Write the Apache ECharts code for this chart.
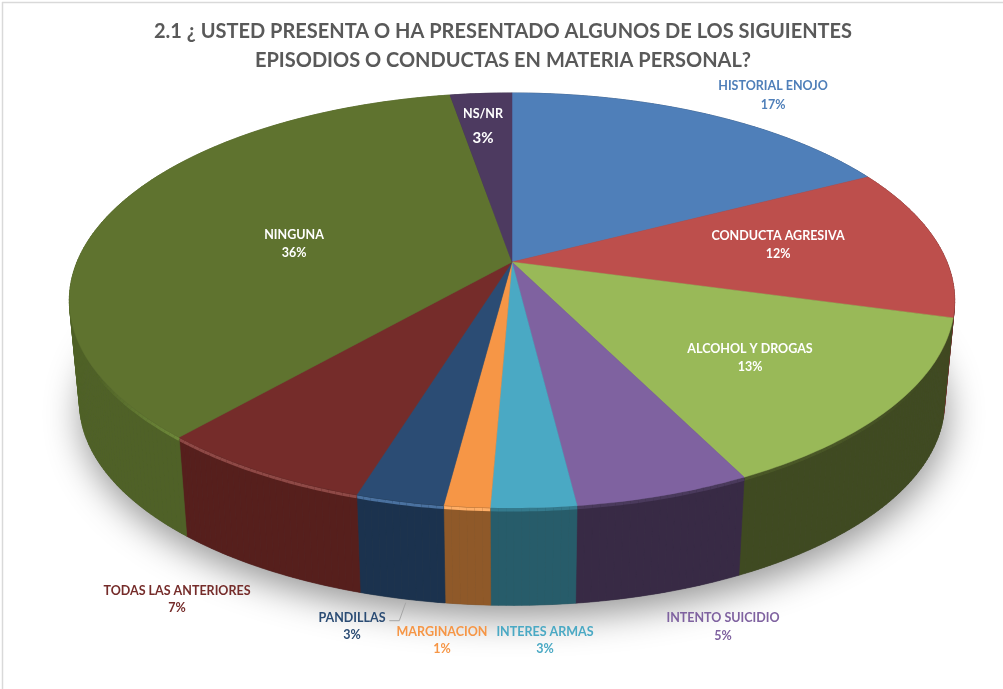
<!DOCTYPE html>
<html>
<head>
<meta charset="utf-8">
<style>
  html, body { margin: 0; padding: 0; background: #fff; }
  #main { width: 1003px; height: 689px; }
</style>
<script src="https://cdn.jsdelivr.net/npm/echarts@6/dist/echarts.min.js"></script>
</head>
<body>
<div id="main"></div>
<script>
const categories = ["HISTORIAL ENOJO", "CONDUCTA AGRESIVA", "ALCOHOL Y DROGAS", "INTENTO SUICIDIO", "INTERES ARMAS", "MARGINACION", "PANDILLAS", "TODAS LAS ANTERIORES", "NINGUNA", "NS/NR"];
const values = [17.4, 11.9, 13.4, 5.4, 2.6, 1.4, 2.7, 6.7, 35.9, 2.7];

const topColors = ["#4F7FB9", "#BD4F4C", "#99B958", "#7F62A0", "#4AA9C4", "#F69646", "#2B4C74", "#752C2A", "#5F732F", "#4D3A60"];
const wallColors = ["#2F4C6F", "#71302E", "#3F4A21", "#382A45", "#275C6A", "#8F5929", "#1B324E", "#561F1C", "#4F6127", "#2E2339"];
const rimColors = ["#3A5E8A", "#7E3533", "#4A5727", "#4A3A5C", "#347A8D", "#FFAE66", "#4A719F", "#8E4946", "#708A3B", "#3A2C49"];
const labelColors = ["#4F7FB9", "#FFFFFF", "#FFFFFF", "#7F62A0", "#4AA9C4", "#F69646", "#2B4C74", "#752C2A", "#FFFFFF", "#FFFFFF"];
const pctSizes = [12.5, 12.5, 12.5, 12.5, 12.5, 12.5, 12.5, 12.5, 12.5, 15];

// [x, y del nombre, y del porcentaje]
const labelPos = [[773, 86, 105], [778, 236, 254], [750, 349, 367], [723, 618, 636], [545, 632, 649], [442, 632, 649], [352, 618, 635], [177, 591, 608], [294, 235, 253], [483, 114, 138]];

// perspectiva del pastel
const cx = 512, cyTop = 262, cyBase = 365, rx = 435, ry = 200.4, persp = 0.1855, baseScale = 0.977;
const total = values.reduce((a, b) => a + b, 0);
const rimFrom = Math.PI * 2 / 3, rimTo = Math.PI * 4 / 3;

const project = (t, cy, s) => {
  const u = Math.sin(t), v = -Math.cos(t);
  const d = 1 - persp * v;
  return [cx + rx * s * u / d, cy + ry * s * v / d];
};

const arc = (from, to, cy, s) => {
  const n = Math.max(2, Math.ceil((to - from) / 0.015));
  const pts = [];
  for (let i = 0; i <= n; i++) pts.push(project(from + (to - from) * i / n, cy, s));
  return pts;
};

const sliceRange = (index) => {
  let acc = 0;
  for (let i = 0; i < index; i++) acc += values[i];
  return [acc / total * Math.PI * 2, (acc + values[index]) / total * Math.PI * 2];
};

const renderShadow = () => ({
  type: "polygon",
  shape: { points: arc(0, Math.PI * 2, cyBase, baseScale) },
  style: { fill: "#555", shadowBlur: 36, shadowColor: "rgba(0,0,0,0.42)", shadowOffsetX: 2, shadowOffsetY: 12 },
});

const renderWall = (params) => {
  const i = params.dataIndex;
  const [a, b] = sliceRange(i);
  const upper = arc(a, b, cyTop, 1);
  const lower = arc(a, b, cyBase, baseScale);
  // tramos sueltos para que la silueta cubra la tangente de ambos bordes
  const children = [];
  for (let k = 0; k < upper.length - 1; k++) {
    children.push({
      type: "polygon",
      shape: { points: [upper[k], upper[k + 1], lower[k + 1], lower[k]] },
      style: { fill: wallColors[i], stroke: wallColors[i], lineWidth: 0.6 },
    });
  }
  // brillo del borde, solo en la parte frontal y apagandose hacia los lados
  const from = Math.max(a, rimFrom), to = Math.min(b, rimTo);
  if (to > from) {
    const rim = arc(from, to, cyTop + 2, 1);
    const step = (to - from) / (rim.length - 1);
    for (let k = 0; k < rim.length - 1; k++) {
      const t = from + step * (k + 0.5);
      const fade = Math.min(1, Math.min(t - rimFrom, rimTo - t) / 0.35);
      children.push({
        type: "polyline",
        shape: { points: [rim[k], rim[k + 1]] },
        style: { fill: null, stroke: rimColors[i], lineWidth: 3, opacity: fade },
      });
    }
  }
  return { type: "group", children };
};

const renderTop = (params) => {
  const [a, b] = sliceRange(params.dataIndex);
  const points = [[cx, cyTop]].concat(arc(a, b, cyTop, 1));
  const color = topColors[params.dataIndex];
  return { type: "polygon", shape: { points }, style: { fill: color, stroke: color, lineWidth: 0.5 } };
};

const renderLabel = (params) => {
  const i = params.dataIndex;
  const family = 'Lato, "Open Sans", sans-serif';
  const [x, y1, y2] = labelPos[i];
  return {
    type: "group",
    children: [
      { type: "text", style: { text: categories[i], x, y: y1, fill: labelColors[i], font: "bold 12.5px " + family, align: "center", verticalAlign: "middle" } },
      { type: "text", style: { text: Math.round(values[i]) + "%", x, y: y2, fill: labelColors[i], font: "bold " + pctSizes[i] + "px " + family, align: "center", verticalAlign: "middle" } },
    ],
  };
};

const myChart = echarts.init(document.getElementById("main"), null, { renderer: "canvas" });

myChart.setOption({
  animation: false,
  backgroundColor: "#fff",
  title: {
    text: "2.1 ¿ USTED PRESENTA O HA PRESENTADO ALGUNOS DE LOS SIGUIENTES\nEPISODIOS O CONDUCTAS EN MATERIA PERSONAL?",
    left: 498,
    top: 12,
    textAlign: "center",
    textStyle: { fontFamily: 'Lato, "Open Sans", sans-serif', fontWeight: "bold", fontSize: 20, lineHeight: 29, color: "#595959" },
  },
  graphic: [
    { type: "line", shape: { x1: 2, y1: 2.5, x2: 1003, y2: 2.5 }, style: { stroke: "#D9D9D9", lineWidth: 1.5 }, silent: true },
    { type: "line", shape: { x1: 2.5, y1: 2, x2: 2.5, y2: 689 }, style: { stroke: "#D9D9D9", lineWidth: 1.5 }, silent: true },
    { type: "polyline", shape: { points: [[405.7, 602.7], [399.3, 620.7], [389.3, 620.7]] }, style: { fill: null, stroke: "#A6A6A6", lineWidth: 1 }, silent: true, z: 10 },
  ],
  series: [
    { type: "custom", coordinateSystem: "none", silent: true, z: 1, data: [1], renderItem: renderShadow },
    { type: "custom", coordinateSystem: "none", silent: true, z: 2, data: values, renderItem: renderWall },
    { type: "custom", coordinateSystem: "none", silent: true, z: 3, data: values, renderItem: renderTop },
    { type: "custom", coordinateSystem: "none", silent: true, z: 4, data: values, renderItem: renderLabel },
  ],
});
</script>
</body>
</html>
